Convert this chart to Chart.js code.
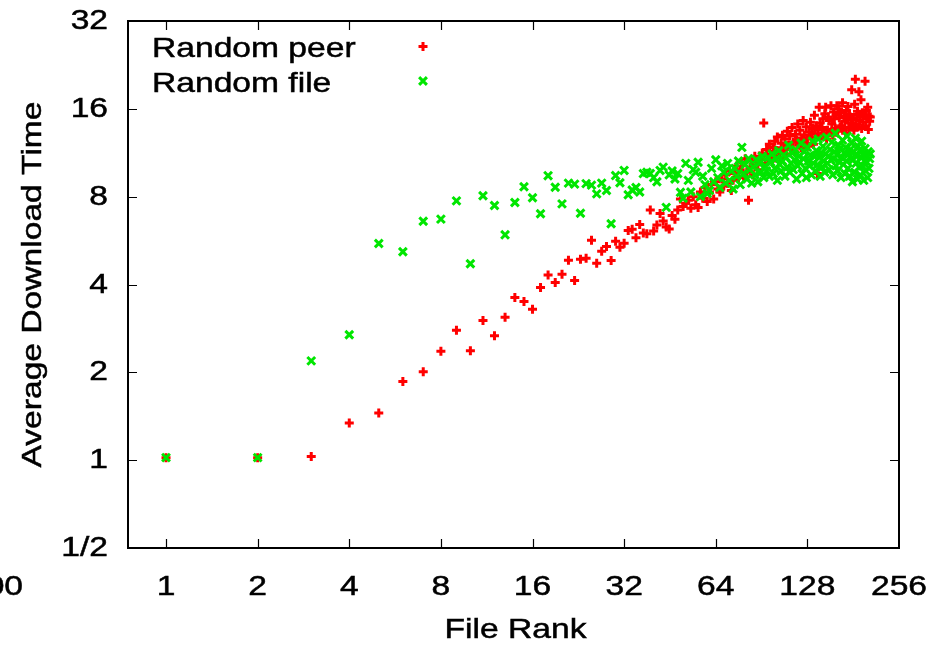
<!DOCTYPE html>
<html>
<head>
<meta charset="utf-8">
<title>Average Download Time vs File Rank</title>
<script src="https://cdn.jsdelivr.net/npm/chart.js@4.4.1/dist/chart.umd.min.js"></script>
<style>
    html, body { margin: 0; padding: 0; background: #fff; }
    #wrap { width: 939px; height: 652px; position: relative; }
</style>
</head>
<body>
<div id="wrap"><canvas id="chart"></canvas></div>
<script>
// Average download time per file rank (rank = index + 1)
const peerTimes = [
    1.02, 1.02, 1.03, 1.34, 1.45, 1.86, 2.01, 2.36, 2.79, 2.37,
    3.01, 2.67, 3.09, 3.61, 3.50, 3.29, 3.91, 4.31, 4.06, 4.34,
    4.84, 4.13, 4.88, 4.92, 5.67, 4.73, 5.20, 5.40, 4.83, 5.63,
    5.37, 5.54, 6.12, 6.19, 5.78, 6.42, 6.00, 5.97, 7.20, 6.10,
    6.40, 7.00, 6.60, 6.30, 6.20, 6.90, 6.70, 7.20, 7.85, 7.40,
    7.60, 7.77, 7.30, 8.00, 7.50, 7.35, 8.30, 7.90, 8.60, 7.70,
    8.30, 8.80, 7.85, 9.00, 8.50, 8.30, 9.20, 8.70, 9.50, 8.90,
    9.80, 8.40, 9.10, 9.60, 10.2, 9.30, 9.90, 10.5, 9.40, 10.8,
    9.70, 7.77, 10.1, 10.6, 9.50, 11.0, 10.3, 9.90, 10.7, 10.9,
    11.3, 14.3, 10.4, 11.6, 10.8, 12.1, 11.2, 10.6, 11.8, 12.4,
    11.0, 12.8, 11.5, 10.9, 12.2, 13.0, 11.7, 12.6, 11.2, 13.4,
    12.0, 12.9, 11.6, 13.8, 12.3, 11.4, 13.1, 12.5, 14.2, 12.0,
    13.5, 11.8, 12.7, 14.6, 13.0, 12.2, 13.9, 12.6, 11.9, 13.3,
    14.4, 12.8, 13.7, 12.1, 15.2, 13.1, 14.0, 9.60, 13.6, 16.2,
    14.3, 12.9, 13.8, 14.8, 13.2, 15.4, 16.2, 12.6, 13.5, 15.0,
    14.6, 13.3, 16.4, 14.2, 13.0, 15.6, 14.8, 13.7, 15.2, 16.4,
    13.4, 16.0, 14.9, 13.9, 15.5, 14.0, 16.8, 13.6, 15.1, 14.5,
    13.2, 15.8, 14.7, 16.3, 13.8, 15.3, 15.0, 14.3, 18.6, 14.7,
    14.9, 13.5, 16.6, 20.2, 14.1, 15.3, 15.7, 13.9, 18.3, 14.6,
    15.0, 17.2, 13.7, 15.5, 14.4, 15.2, 15.2, 19.9, 14.0, 15.8,
    14.8, 16.2, 13.6, 15.1, 14.5, 15.0
];

const fileTimes = [
    1.02, 1.02, 2.19, 2.69, 5.53, 5.18, 6.59, 6.70, 7.74, 4.71,
    8.06, 7.46, 5.92, 7.64, 8.65, 7.93, 6.99, 9.44, 8.62, 7.56,
    8.90, 8.83, 7.02, 8.87, 8.76, 8.18, 8.90, 8.40, 6.46, 9.45,
    8.93, 9.84, 8.12, 8.43, 8.60, 8.30, 9.60, 9.70, 9.60, 9.30,
    9.00, 9.84, 10.1, 7.35, 9.50, 9.80, 9.20, 9.60, 8.28, 7.90,
    10.4, 9.10, 8.30, 9.90, 9.70, 10.5, 8.00, 9.40, 8.80, 8.20,
    8.40, 10.0, 9.00, 10.7, 9.30, 8.60, 10.2, 9.70, 8.90, 10.4,
    9.10, 9.80, 8.50, 10.0, 9.40, 10.6, 8.80, 11.8, 9.60, 10.3,
    9.20, 10.8, 9.90, 8.90, 10.1, 9.50, 10.7, 9.00, 10.4, 9.70,
    11.0, 9.30, 10.2, 9.80, 10.9, 9.40, 10.5, 11.2, 9.60, 10.0,
    10.8, 9.10, 11.5, 10.3, 9.80, 10.6, 11.1, 9.40, 10.9, 10.1,
    12.0, 9.70, 10.4, 11.3, 9.90, 10.7, 11.6, 9.20, 10.2, 11.0,
    10.5, 12.2, 9.60, 10.8, 11.4, 10.0, 9.30, 11.8, 10.6, 10.2,
    11.1, 9.50, 12.4, 10.4, 11.0, 9.80, 11.5, 10.3, 12.6, 10.9,
    9.40, 11.3, 10.1, 11.9, 10.6, 9.70, 11.2, 12.8, 10.4, 11.0,
    9.90, 11.6, 10.7, 12.3, 9.50, 10.8, 11.4, 13.2, 10.2, 11.1,
    9.80, 12.0, 10.5, 11.7, 9.30, 10.9, 12.5, 10.3, 11.3, 9.60,
    11.8, 10.6, 12.9, 10.0, 11.2, 9.40, 11.6, 10.8, 12.2, 9.00,
    10.7, 11.4, 9.70, 12.7, 10.4, 11.0, 9.20, 11.9, 10.1, 11.5,
    9.50, 10.9, 12.4, 10.2, 11.2, 9.10, 10.6, 11.7, 9.80, 11.1,
    10.5, 9.30, 11.4, 10.0, 10.8, 11.2
];

const xTicks = [1, 2, 4, 8, 16, 32, 64, 128, 256];
const xTickLabels = ['1', '2', '4', '8', '16', '32', '64', '128', '256'];
const yTicks = [0.5, 1, 2, 4, 8, 16, 32];
const yTickLabels = ['1/2', '1', '2', '4', '8', '16', '32'];
const seriesNames = ['Random peer', 'Random file'];
const xTitle = 'File Rank';
const yTitle = 'Average Download Time';

const PEER_COLOR = '#ff0000';
const FILE_COLOR = '#00e600';
const FONT_CSS = '28px "Liberation Sans", Arial, sans-serif';
const TEXT_STRETCH = 1.2; // the lettering is set a little wide

const toPoints = arr => arr.map((v, i) => ({ x: i + 1, y: v }));

// text widened along its reading direction
function wideText(ctx, text, x, y, align, rotated) {
    ctx.save();
    ctx.translate(x, y);
    if (rotated) {
        ctx.scale(1, TEXT_STRETCH);
        ctx.rotate(-Math.PI / 2);
    } else {
        ctx.scale(TEXT_STRETCH, 1);
    }
    ctx.textAlign = align;
    ctx.textBaseline = 'alphabetic';
    ctx.fillText(text, 0, 0);
    ctx.strokeText(text, 0, 0);
    ctx.restore();
}

// gnuplot-style frame: closed box, tics pointing inward on all four sides,
// labels, titles and the key inside the top-left corner
const framePlugin = {
    id: 'frame',
    afterDraw(chart) {
        const { ctx, chartArea: a, scales } = chart;
        ctx.save();
        ctx.strokeStyle = '#000';
        ctx.lineWidth = 1.2;
        const tl = 9;
        ctx.beginPath();
        xTicks.forEach(v => {
            const px = Math.round(scales.x.getPixelForValue(v)) + 0.5;
            if (px <= a.left + 1 || px >= a.right - 1) return;
            ctx.moveTo(px, a.bottom); ctx.lineTo(px, a.bottom - tl);
            ctx.moveTo(px, a.top); ctx.lineTo(px, a.top + tl);
        });
        yTicks.forEach(v => {
            const py = Math.round(scales.y.getPixelForValue(v)) + 0.5;
            if (py <= a.top + 1 || py >= a.bottom - 1) return;
            ctx.moveTo(a.left, py); ctx.lineTo(a.left + tl, py);
            ctx.moveTo(a.right, py); ctx.lineTo(a.right - tl, py);
        });
        ctx.stroke();

        ctx.lineWidth = 2;
        ctx.strokeRect(a.left, a.top, a.right - a.left, a.bottom - a.top);

        // tic labels and axis titles
        ctx.fillStyle = '#000';
        ctx.strokeStyle = '#000';
        ctx.lineWidth = 0.5;
        ctx.font = FONT_CSS;
        yTicks.forEach((v, i) => {
            const py = scales.y.getPixelForValue(v);
            wideText(ctx, yTickLabels[i], a.left - 20, py + 8, 'right');
        });
        xTicks.forEach((v, i) => {
            const px = scales.x.getPixelForValue(v);
            wideText(ctx, xTickLabels[i], px, a.bottom + 47, 'center');
        });
        // stray tic label cut off at the left edge
        wideText(ctx, '00', 23, a.bottom + 47, 'right');

        wideText(ctx, xTitle, (a.left + a.right) / 2 + 2, a.bottom + 90, 'center');
        wideText(ctx, yTitle, 41, (a.top + a.bottom) / 2, 'center', true);

        // key
        wideText(ctx, seriesNames[0], a.left + 24, a.top + 36, 'left');
        wideText(ctx, seriesNames[1], a.left + 24, a.top + 71, 'left');
        const ds = chart.data.datasets;
        [[0, a.top + 25.5], [1, a.top + 60]].forEach(([i, y]) => {
            ctx.strokeStyle = ds[i].borderColor;
            ctx.fillStyle = ds[i].borderColor;
            ctx.lineWidth = ds[i].pointBorderWidth;
            Chart.helpers.drawPoint(ctx, {
                pointStyle: ds[i].pointStyle, radius: ds[i].pointRadius,
                rotation: 0, borderWidth: ds[i].pointBorderWidth
            }, a.left + 295, y);
        });
        ctx.restore();
    }
};

const hiddenTicks = { display: false };

new Chart(document.getElementById('chart'), {
    type: 'scatter',
    data: {
        datasets: [
            {
                label: seriesNames[0],
                data: toPoints(peerTimes),
                pointStyle: 'cross',
                pointRadius: 4.5,
                pointBorderWidth: 3,
                borderColor: PEER_COLOR,
                backgroundColor: PEER_COLOR,
                order: 2
            },
            {
                label: seriesNames[1],
                data: toPoints(fileTimes),
                pointStyle: 'crossRot',
                pointRadius: 5.5,
                pointBorderWidth: 3,
                borderColor: FILE_COLOR,
                backgroundColor: FILE_COLOR,
                order: 1
            }
        ]
    },
    options: {
        responsive: true,
        maintainAspectRatio: false,
        animation: false,
        layout: { padding: { left: 0, top: 21, right: 40, bottom: 0 } },
        plugins: {
            legend: { display: false },
            tooltip: { enabled: false }
        },
        scales: {
            x: {
                type: 'logarithmic',
                min: 0.75,
                max: 256,
                afterBuildTicks: s => { s.ticks = xTicks.map(v => ({ value: v })); },
                afterFit: s => {
                    s.height = 104;
                    s.paddingLeft = 0; s.paddingRight = 0;
                },
                ticks: hiddenTicks,
                grid: { display: false, drawTicks: false },
                border: { display: false }
            },
            y: {
                type: 'logarithmic',
                min: 0.5,
                max: 32,
                afterBuildTicks: s => { s.ticks = yTicks.map(v => ({ value: v })); },
                afterFit: s => {
                    s.width = 128;
                    s.paddingTop = 0; s.paddingBottom = 0;
                },
                ticks: hiddenTicks,
                grid: { display: false, drawTicks: false },
                border: { display: false }
            }
        }
    },
    plugins: [framePlugin]
});
</script>
</body>
</html>
